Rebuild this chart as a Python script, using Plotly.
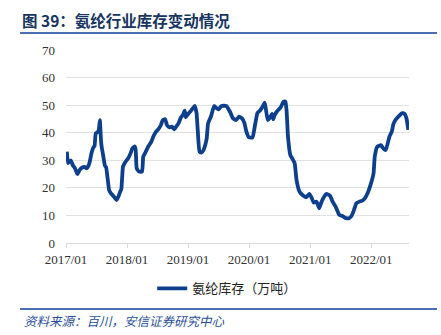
import plotly.graph_objects as go

# Weekly spandex (氨纶) inventory, 10k tonnes
dates = [
    "2017-01-06", "2017-01-13", "2017-01-20", "2017-01-30", "2017-02-10", "2017-02-24",
    "2017-03-10", "2017-03-24", "2017-04-07", "2017-04-21", "2017-05-05", "2017-05-15",
    "2017-05-23", "2017-06-02", "2017-06-14", "2017-06-21", "2017-06-28", "2017-07-09",
    "2017-07-16", "2017-07-23", "2017-07-26", "2017-07-31", "2017-08-04", "2017-08-11",
    "2017-08-22", "2017-08-29", "2017-09-16", "2017-09-27", "2017-10-15", "2017-10-30",
    "2017-11-10", "2017-11-21", "2017-11-28", "2017-12-08", "2017-12-23", "2018-01-08",
    "2018-01-22", "2018-02-02", "2018-02-17", "2018-02-22", "2018-02-28", "2018-03-14",
    "2018-04-01", "2018-04-08", "2018-04-23", "2018-05-08", "2018-05-26", "2018-06-09",
    "2018-06-24", "2018-07-08", "2018-07-23", "2018-08-03", "2018-08-17", "2018-08-28",
    "2018-09-12", "2018-09-26", "2018-10-11", "2018-10-22", "2018-11-05", "2018-11-20",
    "2018-12-01", "2018-12-12", "2018-12-19", "2019-01-01", "2019-01-15", "2019-01-30",
    "2019-02-10", "2019-02-21", "2019-02-28", "2019-03-11", "2019-03-22", "2019-04-02",
    "2019-04-16", "2019-04-23", "2019-05-01", "2019-05-19", "2019-06-06", "2019-06-21",
    "2019-07-02", "2019-07-20", "2019-08-18", "2019-09-09", "2019-09-27", "2019-10-15",
    "2019-11-02", "2019-11-20", "2019-12-05", "2019-12-16", "2020-01-01", "2020-01-22",
    "2020-02-06", "2020-02-20", "2020-03-06", "2020-03-20", "2020-04-04", "2020-04-22",
    "2020-05-07", "2020-05-17", "2020-05-25", "2020-06-02", "2020-06-16", "2020-07-08",
    "2020-07-26", "2020-08-06", "2020-08-13", "2020-08-21", "2020-09-04", "2020-09-15",
    "2020-09-30", "2020-10-11", "2020-10-29", "2020-11-16", "2020-12-08", "2020-12-27",
    "2021-01-11", "2021-01-22", "2021-02-06", "2021-02-13", "2021-02-24", "2021-03-10",
    "2021-03-25", "2021-04-08", "2021-04-30", "2021-05-15", "2021-06-02", "2021-06-24",
    "2021-07-12", "2021-08-03", "2021-08-21", "2021-09-05", "2021-09-20", "2021-10-04",
    "2021-10-22", "2021-11-09", "2021-11-24", "2021-12-12", "2022-01-01", "2022-01-15",
    "2022-01-22", "2022-02-06", "2022-02-28", "2022-03-14", "2022-03-29", "2022-04-20",
    "2022-05-04", "2022-05-15", "2022-05-30", "2022-06-17", "2022-07-05", "2022-07-20",
    "2022-07-31", "2022-08-11",
]
inventory = [
    33.1, 29.0, 29.4, 30.0, 28.3, 27.1,
    25.0, 26.5, 27.3, 27.6, 27.1, 28.0,
    29.5, 32.5, 34.7, 35.2, 39.8, 40.2,
    41.0, 44.6, 41.0, 36.0, 34.3, 31.9,
    28.0, 27.5, 19.2, 18.0, 16.8, 15.6,
    16.8, 18.6, 19.5, 27.7, 29.5, 30.7,
    32.5, 34.3, 35.0, 33.7, 27.1, 25.9,
    25.9, 31.3, 33.1, 35.0, 36.7, 38.8,
    40.4, 41.3, 42.8, 44.6, 44.9, 42.8,
    41.9, 42.2, 41.2, 42.2, 43.4, 45.6,
    46.4, 48.0, 45.6, 46.8, 47.7, 48.9,
    49.7, 47.1, 41.0, 33.1, 32.8, 33.5,
    36.0, 38.0, 43.4, 46.0, 49.7, 48.9,
    48.5, 49.7, 49.7, 47.6, 45.2, 44.6,
    45.8, 45.2, 43.4, 40.4, 38.3, 38.3,
    42.8, 47.1, 48.0, 49.2, 50.9, 44.6,
    45.6, 46.8, 44.9, 46.4, 47.7, 49.2,
    51.3, 51.3, 47.7, 38.6, 31.9, 30.7,
    28.9, 22.9, 18.6, 17.4, 16.6, 17.8,
    16.2, 14.6, 15.0, 14.4, 12.6, 15.0,
    16.8, 17.8, 17.1, 15.0, 13.2, 10.2,
    9.8, 9.0, 9.0, 9.8, 12.0, 14.4,
    15.0, 15.4, 16.2, 18.3, 21.9, 25.3,
    31.3, 34.9, 35.5, 34.3, 33.7, 38.6,
    40.4, 43.4, 44.9, 46.1, 47.1, 46.8,
    45.2, 41.0,
]
series_name = "氨纶库存（万吨）"
title_text = "图 39：氨纶行业库存变动情况"
source_text = "资料来源：百川，安信证券研究中心"
y_ticks = [0, 10, 20, 30, 40, 50, 60, 70]
x_ticks = ["2017-01-01", "2018-01-01", "2019-01-01", "2020-01-01", "2021-01-01", "2022-01-01"]

CJK = "Noto Sans CJK SC"
SERIF = "Liberation Serif"
BLUE = "#0e3f8c"
RULE = "#4a6db3"

fig = go.Figure()
fig.add_trace(go.Scatter(
    x=dates, y=inventory, mode="lines", name=series_name,
    line=dict(color=BLUE, width=3.8, shape="spline", smoothing=0.4),
))

fig.update_layout(
    width=441, height=335,
    margin=dict(l=66, r=32, t=50, b=92),
    paper_bgcolor="white", plot_bgcolor="white",
    showlegend=True,
    legend=dict(
        orientation="h", x=0.47, y=-0.235, xanchor="center", yanchor="middle",
        font=dict(family=CJK, size=13, color="#222222"),
        itemwidth=30,
    ),
    xaxis=dict(
        type="date", range=["2017-01-01", "2022-08-15"],
        tickvals=x_ticks, tickformat="%Y/%m",
        tickfont=dict(family=SERIF, size=13, color="#333333"),
        showgrid=False, showline=True, linecolor="#d9d9d9", linewidth=1,
        ticks="outside", ticklen=4, tickcolor="#d9d9d9",
        zeroline=False,
    ),
    yaxis=dict(
        range=[0, 70], tickvals=y_ticks,
        tickfont=dict(family=SERIF, size=13, color="#333333"),
        showgrid=True, gridcolor="#e0e0e0", gridwidth=1,
        zeroline=False, showline=False, ticks="", ticklabelstandoff=10,
    ),
)

# Header title and rules above / below the chart body
fig.add_annotation(
    text=title_text, xref="paper", yref="paper",
    x=(20 - 66) / 343, y=(243 - 20) / 193, xanchor="left", yanchor="middle",
    showarrow=False, font=dict(family=CJK, size=15.5, color="#17355f", weight="bold"),
)
fig.add_shape(type="line", xref="paper", yref="paper",
              x0=(20 - 66) / 343, x1=(437 - 66) / 343,
              y0=(243 - 33) / 193, y1=(243 - 33) / 193,
              line=dict(color=RULE, width=2))
fig.add_shape(type="line", xref="paper", yref="paper",
              x0=(20 - 66) / 343, x1=(437 - 66) / 343,
              y0=(243 - 309) / 193, y1=(243 - 309) / 193,
              line=dict(color=RULE, width=2))
fig.add_annotation(
    text="<i>" + source_text + "</i>", xref="paper", yref="paper",
    x=(22 - 66) / 343, y=(243 - 320) / 193, xanchor="left", yanchor="middle",
    showarrow=False, font=dict(family=CJK, size=12.5, color="#2b4f9a"),
)

fig.write_html("out.html")
